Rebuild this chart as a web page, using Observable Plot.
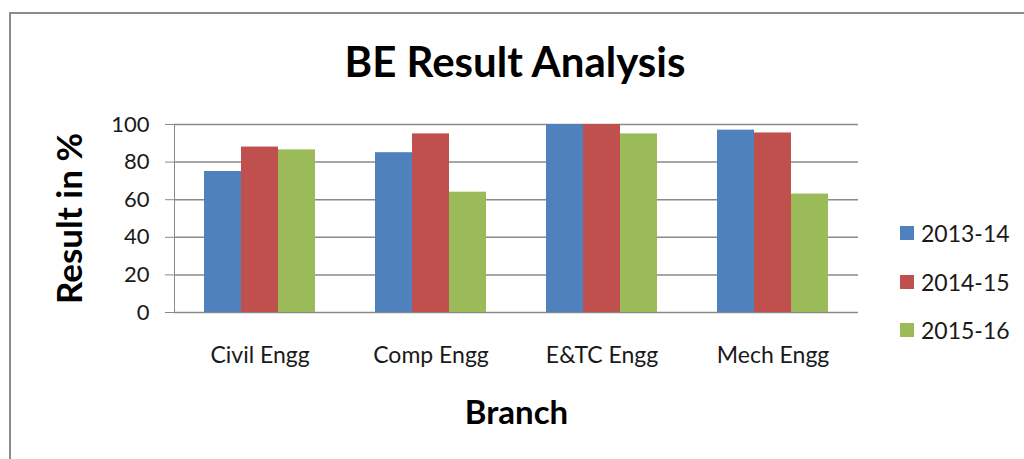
<!DOCTYPE html>
<html>
<head>
<meta charset="utf-8">
<script src="https://cdn.jsdelivr.net/npm/d3@7"></script>
<script src="https://cdn.jsdelivr.net/npm/@observablehq/plot@0.6"></script>
<style>
  html, body { margin: 0; padding: 0; background: #fff; }
  #wrap { position: relative; width: 1024px; height: 459px; overflow: hidden; font-family: Lato, sans-serif; }
  #border { position: absolute; left: 9px; top: 12px; width: 1100px; height: 520px; border: 2px solid #8c8c8c; box-sizing: border-box; }
  #title { position: absolute; left: 0; top: 40px; width: 1030px; text-align: center; font: bold 42px/1 Lato, sans-serif; color: #000; }
  #chart { position: absolute; left: 0; top: 0; }
  #legend { position: absolute; left: 900px; top: 209px; }
  #chart svg { color: #8a8a8a; overflow: visible; }
  g[aria-label="y-axis tick label"] { fill: #1a1a1a; }
  g[aria-label="fx-axis tick label"] { fill: #1a1a1a; font-size: 23px; }
  g[aria-label="fx-axis label"] { fill: #000; font-size: 33px; font-weight: bold; }
  g[aria-label="y-axis label"] { fill: #000; font-size: 35px; font-weight: bold; }
  .lg-swatches { font-family: Lato, sans-serif; font-size: 23px; color: #1a1a1a; margin: 0 !important; min-height: 0 !important; }
  .lg-swatch { height: 48.5px; margin: 0 !important; padding: 0 !important; }
  .lg-swatch svg { margin-right: 7px !important; }
</style>
</head>
<body>
<div id="wrap">
  <div id="border"></div>
  <div id="title">BE Result Analysis</div>
  <div id="chart"></div>
  <div id="legend"></div>
</div>
<script>
const branches = ["Civil Engg", "Comp Engg", "E&TC Engg", "Mech Engg"];
const years = ["2013-14", "2014-15", "2015-16"];
const values2013_14 = [75, 85, 100, 97];
const values2014_15 = [88, 95, 100, 95.5];
const values2015_16 = [86.5, 64, 95, 63];
const yearColors = ["#4F81BD", "#C0504D", "#9BBB59"];
const yTicks = [0, 20, 40, 60, 80, 100];

const series = [values2013_14, values2014_15, values2015_16];
const rows = [];
branches.forEach((b, i) => years.forEach((y, j) => rows.push({branch: b, year: y, value: series[j][i]})));

const chart = Plot.plot({
  width: 880,
  height: 440,
  marginLeft: 174,
  marginRight: 22,
  marginTop: 124,
  marginBottom: 128,
  style: {fontFamily: "Lato, sans-serif", fontSize: "22px", background: "transparent"},
  fx: {domain: branches, padding: 0, axis: "bottom", tickSize: 0, tickPadding: 34, label: "Branch", labelAnchor: "center", labelOffset: 111},
  x: {domain: years, axis: null, paddingInner: 0, paddingOuter: 0.77},
  y: {domain: [0, 100], ticks: yTicks, tickSize: 9, tickPadding: 16, label: "Result in %", labelAnchor: "center", labelOffset: 117, line: true, labelArrow: "none"},
  color: {domain: years, range: yearColors},
  marks: [
    Plot.ruleY(yTicks, {stroke: "#8a8a8a", strokeWidth: 1.5}),
    Plot.barY(rows, {fx: "branch", x: "year", y: "value", fill: "year"})
  ]
});
document.getElementById("chart").appendChild(chart);

const legend = chart.legend("color", {legend: "swatches", columns: 1, swatchSize: 14, className: "lg"});
document.getElementById("legend").appendChild(legend);
</script>
</body>
</html>
